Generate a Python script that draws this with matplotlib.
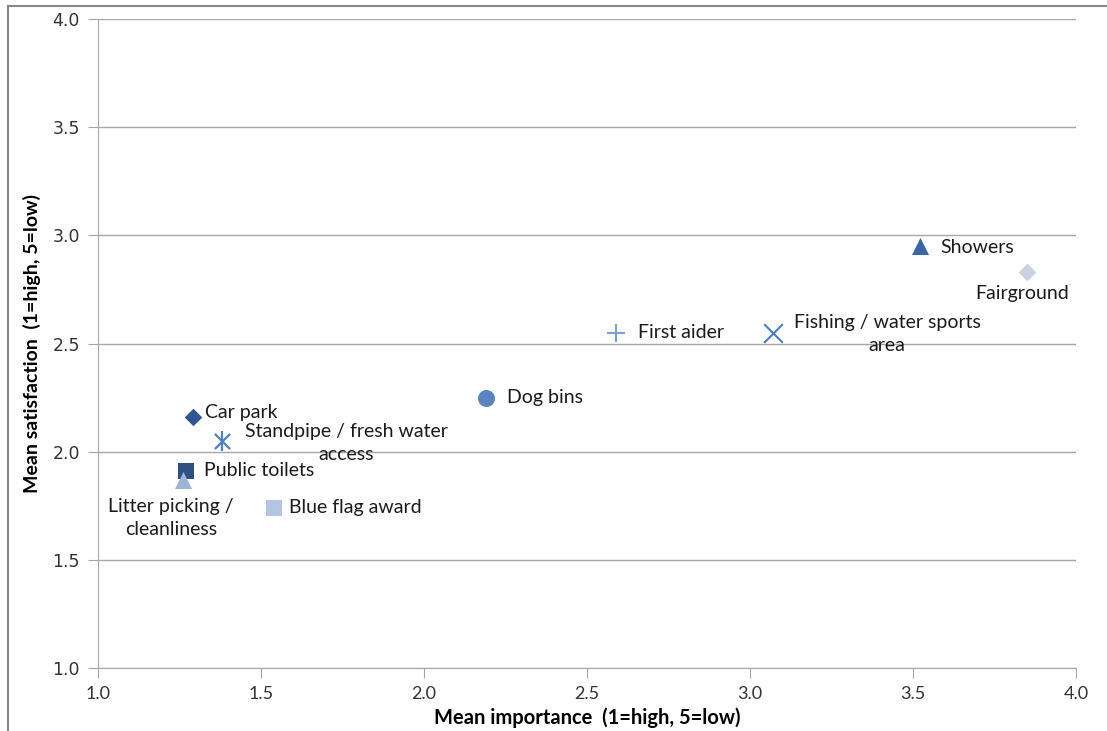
import matplotlib.pyplot as plt
from matplotlib.patches import Rectangle

# mean importance / mean satisfaction per facility
names = ["Showers", "Fairground", "First aider", "Fishing / water sports\narea",
         "Dog bins", "Car park", "Standpipe / fresh water\naccess",
         "Public toilets", "Litter picking /\ncleanliness", "Blue flag award"]
importance = [3.52, 3.85, 2.59, 3.07, 2.19, 1.29, 1.38, 1.27, 1.26, 1.54]
satisfaction = [2.95, 2.83, 2.55, 2.55, 2.25, 2.16, 2.05, 1.91, 1.87, 1.74]

x_ticks = [1.0, 1.5, 2.0, 2.5, 3.0, 3.5, 4.0]
y_ticks = [1.0, 1.5, 2.0, 2.5, 3.0, 3.5, 4.0]

# marker, colour, size, label offset (px), horizontal alignment
styles = [
    ("^", "#3b66a3", 150, (21, -1), "left"),
    ("D", "#c9d1e3", 80, (-5, -21), "center"),
    ("+", "#7f9fd3", 180, (22, 0), "left"),
    ("x", "#4f7dbb", 180, (21, -1), "left"),
    ("o", "#5a84c2", 150, (21, 0), "left"),
    ("D", "#2f5791", 80, (12, 5), "left"),
    ("*", "#4f81bd", 0, (23, -2), "left"),
    ("s", "#2f4f82", 140, (18, 1), "left"),
    ("^", "#9fb3d9", 150, (-12, -38), "center"),
    ("s", "#b6c4e1", 140, (15, 0), "left"),
]

fig = plt.figure(figsize=(11.07, 7.31), dpi=100)
ax = fig.add_axes([98 / 1107, 63 / 731, 978 / 1107, 649 / 731])

# outer chart frame
fig.patches.append(Rectangle((8 / 1107, -0.1), 1.2, 1.0 - 6 / 731 + 0.1,
                             transform=fig.transFigure, fill=False,
                             edgecolor="#878787", lw=1.5))

for xv, yv, name, (m, c, s, off, ha) in zip(importance, satisfaction, names, styles):
    if m == "*":
        # asterisk: an x with a vertical bar through it
        ax.scatter([xv], [yv], marker="x", s=120, color=c, linewidths=1.6, zorder=3)
        ax.scatter([xv], [yv], marker="|", s=200, color=c, linewidths=1.6, zorder=3)
    elif m in ("+", "x"):
        ax.scatter([xv], [yv], marker=m, s=s, color=c, linewidths=1.5, zorder=3)
    else:
        ax.scatter([xv], [yv], marker=m, s=s, color=c, linewidths=0, zorder=3)
    ax.annotate(name, (xv, yv), xytext=off, textcoords="offset pixels",
                ha=ha, va="center", multialignment="center", linespacing=1.45,
                fontsize=14, family="Lato", color="#1a1a1a")

ax.set_xlim(1.0, 4.0)
ax.set_ylim(1.0, 4.0)
ax.set_xticks(x_ticks)
ax.set_yticks(y_ticks)
ax.set_xticklabels([f"{v:.1f}" for v in x_ticks], family="Lato",
                   fontsize=13, color="#333333")
ax.set_yticklabels([f"{v:.1f}" for v in y_ticks], family="DejaVu Sans",
                   fontsize=12.5, color="#333333")
ax.grid(axis="y", color="#a6a6a6", lw=1)
ax.set_axisbelow(True)
for side in ("top", "right"):
    ax.spines[side].set_visible(False)
for side in ("left", "bottom"):
    ax.spines[side].set_color("#a6a6a6")
ax.tick_params(length=7, color="#a6a6a6", direction="out", pad=6)

ax.set_xlabel("Mean importance  (1=high, 5=low)", family="Lato",
              fontweight="bold", fontsize=14.5, labelpad=4)
ax.set_ylabel("Mean satisfaction  (1=high, 5=low)", family="Lato",
              fontweight="bold", fontsize=14, labelpad=8)

fig.savefig("out.png", dpi=100)
